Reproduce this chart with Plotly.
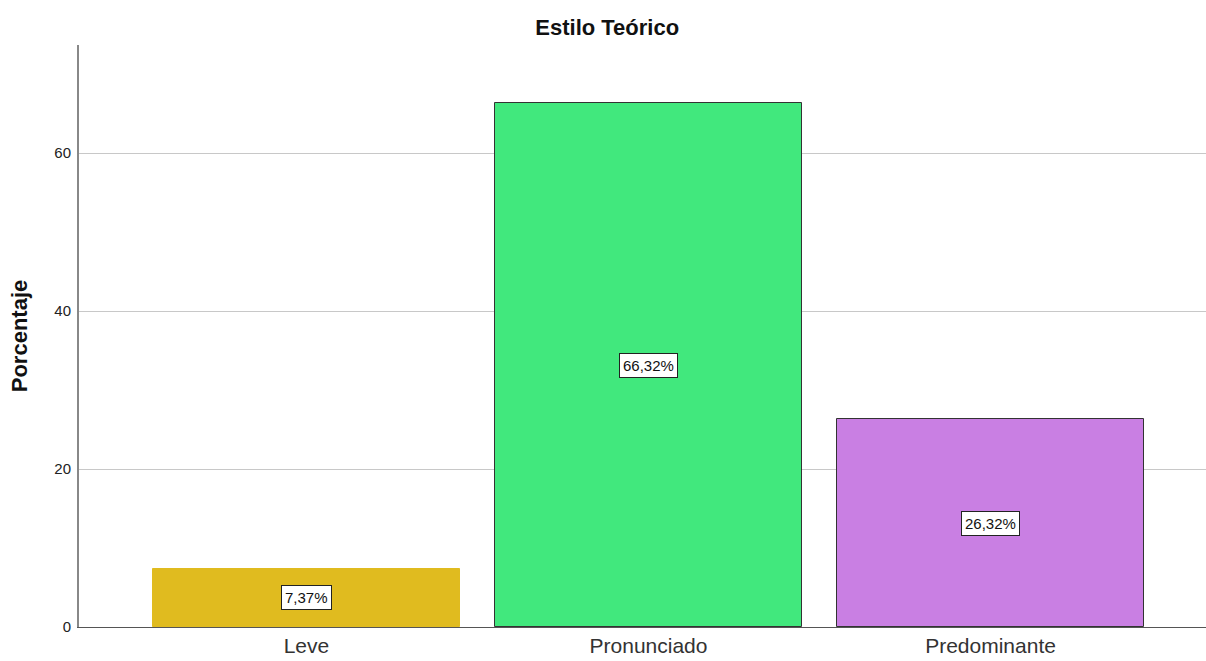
import plotly.graph_objects as go

categories = ["Leve", "Pronunciado", "Predominante"]
values = [7.37, 66.32, 26.32]
labels = ["7,37%", "66,32%", "26,32%"]
colors = ["#e0bb1f", "#41e87d", "#c97fe3"]
outline = ["#e0bb1f", "#333333", "#333333"]
y_ticks = [0, 20, 40, 60]

fig = go.Figure()
fig.add_trace(go.Bar(
    x=list(range(len(categories))),
    y=values,
    width=0.898,
    marker=dict(color=colors, line=dict(color=outline, width=1)),
    hoverinfo="skip",
))

for i, (v, lab) in enumerate(zip(values, labels)):
    fig.add_annotation(
        x=i, y=v / 2, text=lab, showarrow=False,
        font=dict(family="Liberation Sans, Arial", size=15, color="#111111"),
        bgcolor="white", bordercolor="#222222", borderwidth=1, borderpad=3,
    )

fig.update_layout(
    width=1206, height=661,
    margin=dict(l=79, r=0, t=45, b=34, autoexpand=False),
    paper_bgcolor="white", plot_bgcolor="white",
    showlegend=False,
    bargap=0,
    title=dict(text="<b>Estilo Teórico</b>", x=0.5035, xanchor="center", y=0.959, yanchor="middle",
               font=dict(family="Liberation Sans, Arial", size=22, color="#111111")),
    font=dict(family="Liberation Sans, Arial", color="#222222"),
)
fig.update_xaxes(
    range=[-0.665, 2.63],
    tickmode="array", tickvals=list(range(len(categories))), ticktext=categories,
    tickfont=dict(size=21, color="#333333"),
    showgrid=False, zeroline=False,
    showline=True, linecolor="#555555", linewidth=1,
    ticks="", ticklen=0, ticklabelstandoff=0, automargin=False,
)
fig.update_yaxes(
    range=[0, 73.7],
    tickmode="array", tickvals=y_ticks,
    tickfont=dict(size=15, color="#222222"),
    showgrid=True, gridcolor="#c8c8c8", gridwidth=1,
    zeroline=False,
    showline=True, linecolor="#888888", linewidth=2,
    ticks="", ticklabelstandoff=3, automargin=False,
    title=dict(text="<b>Porcentaje</b>", font=dict(size=22, color="#111111"), standoff=21),
)

fig.write_html("out.html", config={"displayModeBar": False},
               post_script="document.body.style.margin='0';")
